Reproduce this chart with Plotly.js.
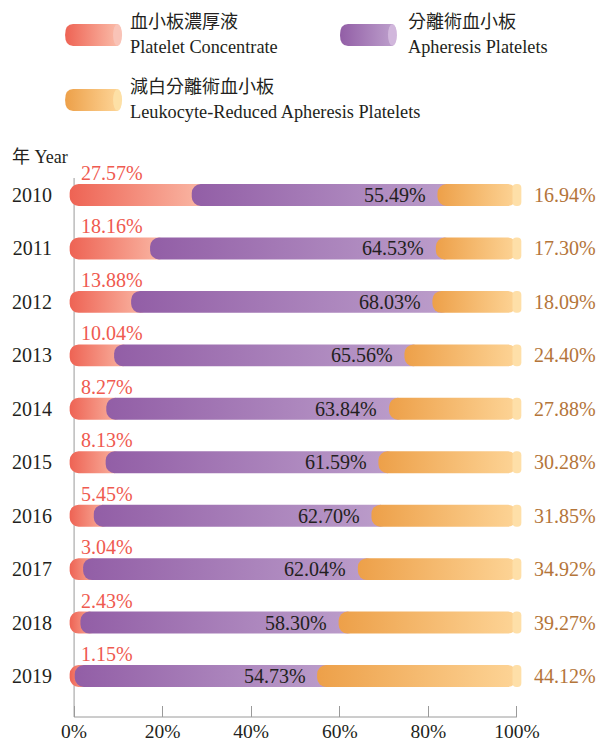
<!DOCTYPE html>
<html>
<head>
<meta charset="utf-8">
<script src="https://cdn.plot.ly/plotly-3.0.1.min.js"></script>
<style>
html,body{margin:0;padding:0;background:#fff;}
#chart{width:598px;height:745px;}
</style>
</head>
<body>
<div id="chart"></div>
<script>
// ---- data ----
const years = ['2010','2011','2012','2013','2014','2015','2016','2017','2018','2019'];
const concentrate = [27.57,18.16,13.88,10.04,8.27,8.13,5.45,3.04,2.43,1.15];
const apheresis   = [55.49,64.53,68.03,65.56,63.84,61.59,62.70,62.04,58.30,54.73];
const leukoReduced= [16.94,17.30,18.09,24.40,27.88,30.28,31.85,34.92,39.27,44.12];
const xTickVals = [0,20,40,60,80,100];
const xTickText = ['0%','20%','40%','60%','80%','100%'];
const seriesNamesZh = ['血小板濃厚液','分離術血小板','減白分離術血小板'];
const seriesNamesEn = ['Platelet Concentrate','Apheresis Platelets','Leukocyte-Reduced Apheresis Platelets'];

// ---- style ----
const SERIF = '"Liberation Serif", "Noto Sans CJK TC", serif';
const TXT = '#231f20';
const RED_TXT = '#ef5a50';
const ORA_TXT = '#b4753a';
const XMIN = -1.6, XMAX = 102.5;  // room so the rounded end caps are not clipped
const W = 598, H = 745, MT = 178, MB = 28;
const X0PX = 74, PW100 = 443;     // pixel of 0%, pixels from 0% to 100%
const ML = X0PX + XMIN * PW100 / 100;
const PW = PW100 * (XMAX - XMIN) / 100;
const MR = W - ML - PW;
const PH = H - MT - MB;
const px2x = p => (p - ML) / PW;
const px2y = p => (H - MB - p) / PH;
const OVER = 3;   // hidden overlap under next segment's rounded end
const SHIFT = 1.0; // rounded ends bulge a little past each boundary
const CAP = 1.0;

// placeholder fills that get replaced by gradients
const F_RED = 'rgb(244, 140, 120)';
const F_PUR = 'rgb(168, 128, 186)';
const F_ORA = 'rgb(245, 187, 112)';

const yIdx = years.map((y,i)=>i);
const total = years.map((y,i)=>concentrate[i]+apheresis[i]+leukoReduced[i]);
const redEnd = concentrate.map(v=>v+OVER);
const purEnd = concentrate.map((v,i)=>v+apheresis[i]+OVER);

const traces = [
  { type:'bar', orientation:'h', y:yIdx, base:redEnd, x:redEnd.map(v=>-(v+SHIFT)),
    marker:{color:F_RED, cornerradius:9}, width:0.41, hoverinfo:'skip' },
  { type:'bar', orientation:'h', y:yIdx, base:purEnd, x:apheresis.map(v=>-(v+OVER+SHIFT)),
    marker:{color:F_PUR, cornerradius:9}, width:0.41, hoverinfo:'skip' },
  { type:'bar', orientation:'h', y:yIdx, base:total, x:leukoReduced.map(v=>-(v+SHIFT)),
    marker:{color:F_ORA, cornerradius:9}, width:0.41, hoverinfo:'skip' },
  { type:'bar', orientation:'h', y:yIdx, base:total.map(t=>t-CAP), x:total.map(()=>2*CAP),
    marker:{color:'#fedfa8', cornerradius:8}, width:0.41, hoverinfo:'skip' }
];

const ann = [];
yIdx.forEach((y,i)=>{
  ann.push({x:0, y:y, xref:'x', yref:'y', xanchor:'left', yanchor:'middle', xshift:5, yshift:22,
    text:concentrate[i].toFixed(2)+'%', showarrow:false, font:{family:SERIF,size:20,color:RED_TXT}});
  ann.push({x:concentrate[i]+apheresis[i], y:y, xref:'x', yref:'y', xanchor:'right', yanchor:'middle', xshift:-14,
    text:apheresis[i].toFixed(2)+'%', showarrow:false, font:{family:SERIF,size:20,color:TXT}});
  ann.push({x:total[i], y:y, xref:'x', yref:'y', xanchor:'left', yanchor:'middle', xshift:15,
    text:leukoReduced[i].toFixed(2)+'%', showarrow:false, font:{family:SERIF,size:20,color:ORA_TXT}});
});
ann.push({x:px2x(10), y:px2y(157), xref:'paper', yref:'paper', xanchor:'left', yanchor:'middle',
  text:'年 Year', showarrow:false, font:{family:SERIF,size:18,color:TXT}});

// legend
const legendItems = [
  {sx:65, sy:35, tx:128, fill:F_RED, cap:'#f9c3b7'},
  {sx:340, sy:35, tx:406, fill:F_PUR, cap:'#d1b7dc'},
  {sx:65, sy:100, tx:128, fill:F_ORA, cap:'#fde0a6'}
];
const shapes = [];
legendItems.forEach((it,k)=>{
  const x0=it.sx, x1=it.sx+57, y0=it.sy-11, y1=it.sy+11, r=8;
  const X=px2x, Y=px2y;
  const path = `M ${X(x0+r)},${Y(y0)} L ${X(x1-4)},${Y(y0)} L ${X(x1-4)},${Y(y1)} L ${X(x0+r)},${Y(y1)} `+
    `Q ${X(x0)},${Y(y1)} ${X(x0)},${Y(it.sy)} Q ${X(x0)},${Y(y0)} ${X(x0+r)},${Y(y0)} Z`;
  shapes.push({type:'path', xref:'paper', yref:'paper', path:path, fillcolor:it.fill, line:{width:0}, layer:'above'});
  shapes.push({type:'circle', xref:'paper', yref:'paper', x0:X(x1-9), x1:X(x1), y0:Y(y1), y1:Y(y0),
    fillcolor:it.cap, line:{width:0}, layer:'above'});
  ann.push({x:X(it.tx), y:Y(it.sy-13), xref:'paper', yref:'paper', xanchor:'left', yanchor:'middle',
    text:seriesNamesZh[k], showarrow:false, font:{family:SERIF,size:18,color:TXT}});
  ann.push({x:X(it.tx), y:Y(it.sy+12), xref:'paper', yref:'paper', xanchor:'left', yanchor:'middle',
    text:seriesNamesEn[k], showarrow:false, font:{family:SERIF,size:18.3,color:TXT}});
});
// axis lines: x baseline from 0% to 100%, y line at 0%
shapes.push({type:'line', xref:'x', yref:'paper', x0:xTickVals[0], x1:xTickVals[xTickVals.length-1], y0:0, y1:0,
  line:{color:'#9a9a9a', width:1}, layer:'below'});
shapes.push({type:'line', xref:'x', yref:'paper', x0:xTickVals[0], x1:xTickVals[0], y0:0, y1:1,
  line:{color:'#9a9a9a', width:1}, layer:'below'});

const layout = {
  width:W, height:H, margin:{l:ML, r:MR, t:MT, b:MB, pad:0},
  paper_bgcolor:'#fff', plot_bgcolor:'#fff',
  barmode:'overlay', showlegend:false,
  font:{family:SERIF, color:TXT},
  xaxis:{range:[XMIN,XMAX], tickvals:xTickVals, ticktext:xTickText, ticks:'inside', ticklen:11,
    tickcolor:'#9a9a9a', tickwidth:1, showline:false,
    showgrid:false, zeroline:false, tickfont:{family:SERIF,size:19.5,color:TXT}, fixedrange:true},
  yaxis:{range:[9.767,-0.318], tickvals:yIdx, ticktext:years,
    showline:false, showgrid:false, zeroline:false, ticks:'',
    ticklabelstandoff:Math.round(21 - (X0PX - ML)), tickfont:{family:SERIF,size:20,color:TXT}, fixedrange:true},
  annotations:ann, shapes:shapes
};

Plotly.newPlot('chart', traces, layout, {staticPlot:true, displayModeBar:false}).then(gd=>{
  const svg = gd.querySelector('svg.main-svg');
  const NS='http://www.w3.org/2000/svg';
  const defs = document.createElementNS(NS,'defs');
  const grads = {
    gRed:['#ee6354','#fabba8'],
    gPur:['#925ea6','#bc9ecb'],
    gOra:['#eda049','#fdd496']
  };
  Object.keys(grads).forEach(id=>{
    const g=document.createElementNS(NS,'linearGradient');
    g.setAttribute('id',id); g.setAttribute('x1','0'); g.setAttribute('x2','1'); g.setAttribute('y1','0'); g.setAttribute('y2','0');
    grads[id].forEach((c,j)=>{const s=document.createElementNS(NS,'stop'); s.setAttribute('offset',j?'1':'0'); s.setAttribute('stop-color',c); g.appendChild(s);});
    defs.appendChild(g);
  });
  svg.insertBefore(defs, svg.firstChild);
  const map = {}; map[F_RED]='url(#gRed)'; map[F_PUR]='url(#gPur)'; map[F_ORA]='url(#gOra)';
  gd.querySelectorAll('path').forEach(p=>{
    const f = p.style.fill;
    if (map[f]) p.style.fill = map[f];
  });
});
</script>
</body>
</html>
